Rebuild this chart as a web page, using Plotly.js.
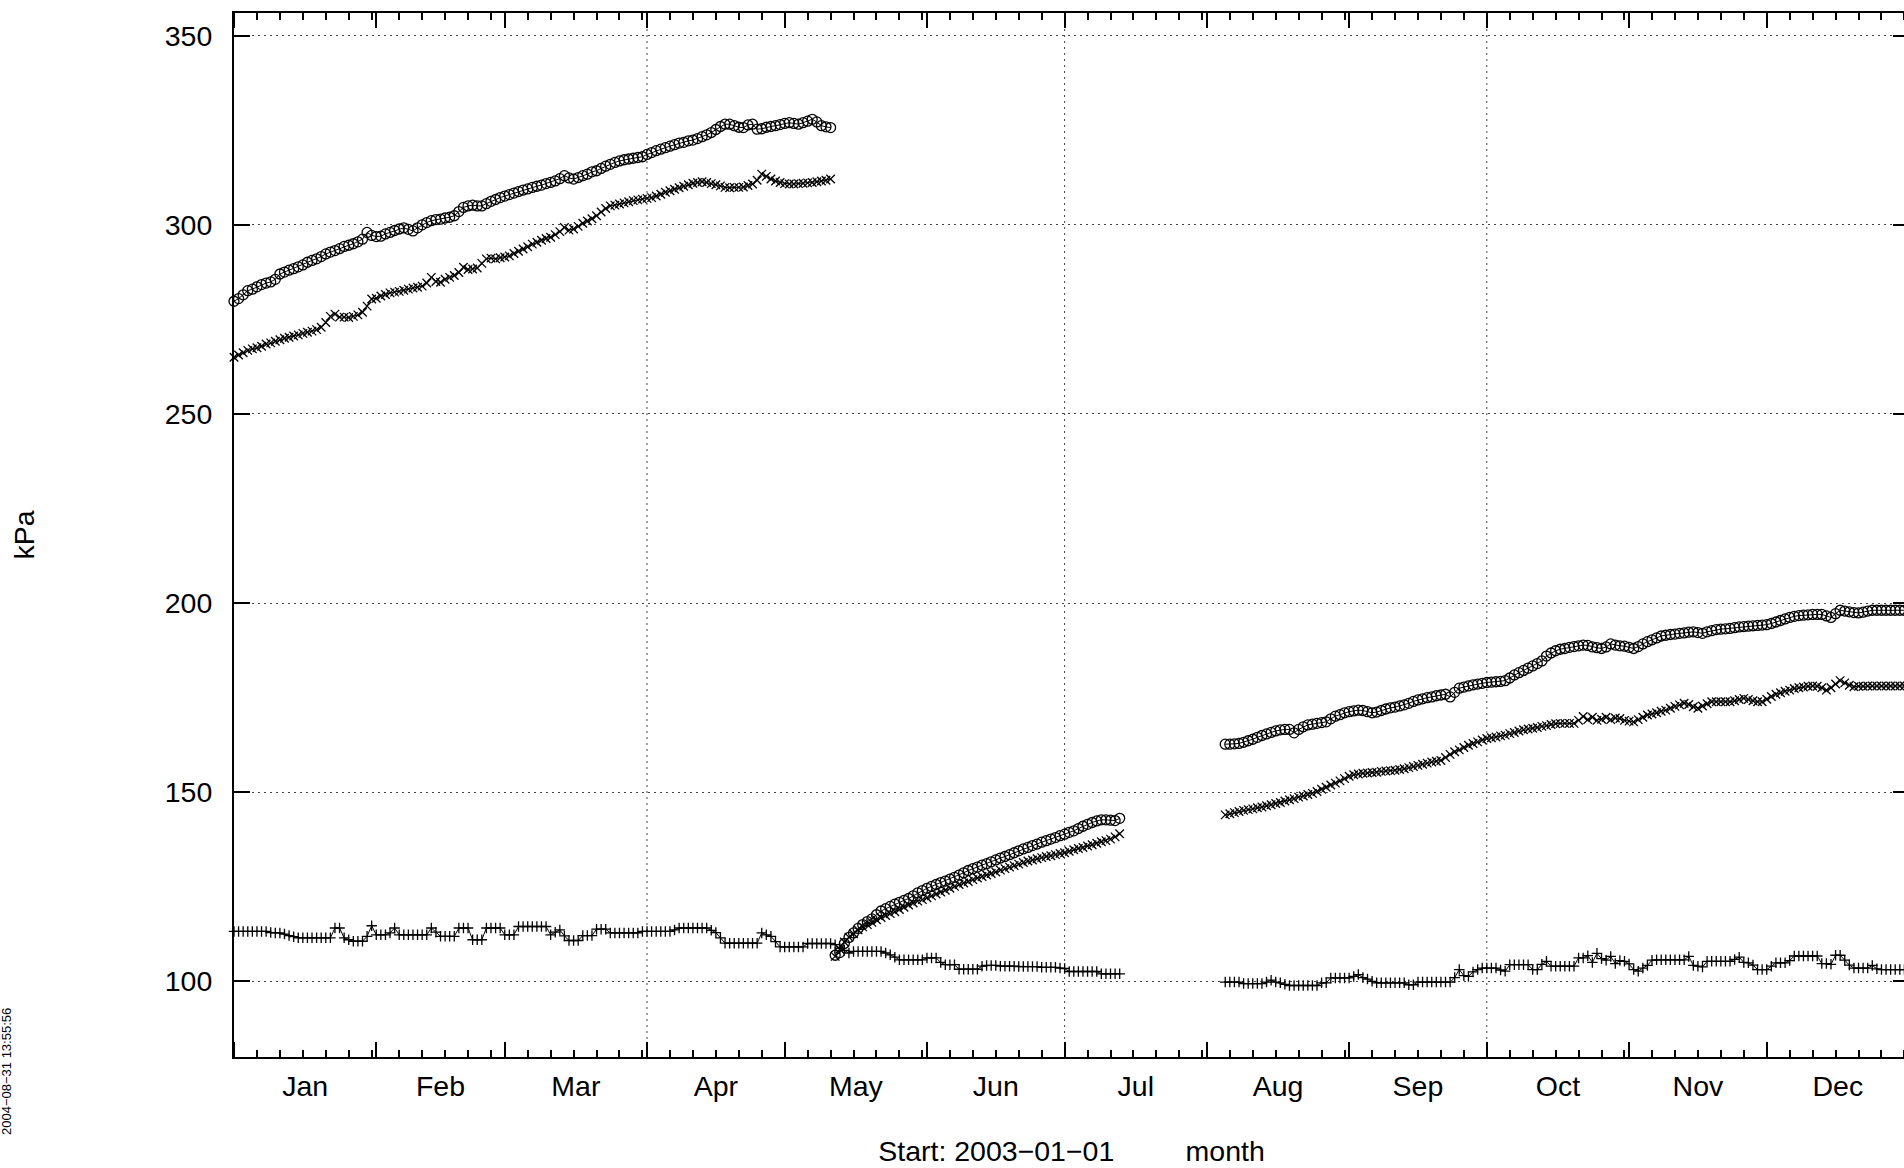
<!DOCTYPE html>
<html><head><meta charset="utf-8">
<script src="https://cdn.plot.ly/plotly-3.0.1.min.js"></script>
<style>html,body{margin:0;padding:0;overflow:hidden;background:#fff;width:1904px;height:1168px}#plot{width:1910px;height:1168px}</style>
</head><body><div id="plot"></div>
<script>
// ---- data (daily readings) ----
const seg1Start = '2003-01-01';   // days 0..130
const seg2Start = '2003-05-12';   // days 131..193
const seg3Start = '2003-08-05';   // days 216..364
const plusAStart = '2003-01-01';  // days 0..193

const circ1 = [
279.8,280.5,281.5,282.6,283.0,283.6,284.2,284.6,284.9,285.6,
287.0,287.5,288.0,288.4,288.9,289.4,290.1,290.6,291.0,291.6,
292.3,292.8,293.2,293.7,294.3,294.6,295.0,295.5,296.2,298.0,
297.2,296.9,297.0,297.6,298.0,298.5,298.9,299.2,298.8,298.4,
299.2,300.0,300.6,301.1,301.4,301.5,301.8,302.0,302.4,303.5,
304.6,305.0,305.2,305.0,305.0,305.6,306.2,306.7,307.2,307.6,
308.0,308.4,308.8,309.2,309.5,309.9,310.2,310.5,310.9,311.2,
311.6,312.2,313.0,312.4,312.1,312.5,313.0,313.4,314.0,314.3,
314.9,315.5,316.0,316.5,316.9,317.2,317.4,317.6,317.8,318.0,
318.6,319.1,319.6,320.0,320.4,320.8,321.2,321.6,321.8,322.2,
322.4,322.8,323.3,323.8,324.4,325.2,326.0,326.6,326.6,326.2,
325.8,325.7,326.4,326.6,325.3,325.4,325.8,326.0,326.2,326.5,
326.8,327.0,326.8,326.6,327.0,327.4,327.9,327.2,326.2,325.9,
325.7];

const cross1 = [
265.0,265.6,266.2,266.8,267.2,267.5,267.9,268.5,268.8,269.2,
269.6,270.0,270.3,270.6,270.9,271.3,271.6,271.9,272.3,272.9,
274.2,275.8,276.4,275.6,275.6,275.5,275.8,276.2,276.9,278.5,
280.4,280.6,281.2,281.6,282.0,282.2,282.4,282.7,283.0,283.3,
283.5,283.8,284.6,286.1,285.0,284.8,285.6,286.1,286.6,287.4,
288.8,288.2,288.3,288.6,289.8,291.0,291.2,291.0,291.3,291.5,
291.8,292.4,293.0,293.6,294.2,294.9,295.4,295.9,296.4,296.7,
297.4,298.2,299.3,298.6,298.9,299.6,300.4,301.0,301.6,302.4,
303.4,304.3,305.0,305.2,305.5,305.8,306.1,306.4,306.6,306.8,
307.0,307.2,307.6,308.1,308.6,309.0,309.4,309.8,310.2,310.6,
311.0,311.2,311.4,311.2,310.9,310.6,310.3,309.9,309.8,309.9,
309.9,310.0,310.4,310.8,311.8,313.4,312.8,312.1,311.6,311.2,
310.9,310.8,310.8,310.9,311.0,311.1,311.2,311.4,311.6,311.8,
312.1];

const plusA = [
113.2,113.2,113.2,113.2,113.2,113.2,113.2,113.2,112.9,112.8,
112.8,112.5,112.1,111.8,111.5,111.5,111.5,111.5,111.5,111.5,
111.5,111.5,114.1,114.1,111.5,111.0,110.6,110.6,110.6,111.9,
114.7,112.3,112.3,112.3,112.8,114.1,112.3,112.3,112.3,112.3,
112.3,112.3,112.3,114.1,113.0,111.9,111.9,111.9,111.9,114.1,
114.1,114.1,111.0,111.0,111.0,114.1,114.1,114.1,114.1,112.3,
112.3,112.3,114.5,114.5,114.5,114.5,114.5,114.5,114.5,112.3,
113.0,113.6,112.0,110.8,110.8,110.8,112.1,112.1,112.1,113.8,
113.8,113.8,112.8,112.8,112.8,112.8,112.8,112.8,112.8,113.2,
113.2,113.2,113.2,113.2,113.2,113.2,113.6,114.1,114.1,114.1,
114.1,114.1,114.1,114.1,113.5,112.9,111.5,110.1,110.1,110.1,
110.1,110.1,110.1,110.1,110.1,112.8,112.3,111.9,110.5,109.1,
109.1,109.1,109.1,109.1,109.1,110.0,110.0,110.0,110.0,110.0,
110.0,109.7,108.8,108.2,107.5,107.9,107.9,107.9,107.9,107.9,
107.9,107.9,107.5,107.0,106.4,105.7,105.7,105.7,105.7,105.7,
105.7,106.2,106.2,106.2,105.0,104.4,104.4,104.4,103.2,103.2,
103.2,103.2,103.2,104.0,104.2,104.2,104.2,104.0,104.0,104.0,
104.0,103.9,103.9,103.9,103.9,103.9,103.7,103.7,103.7,103.7,
103.5,103.4,102.6,102.6,102.6,102.6,102.6,102.6,102.6,102.0,
102.0,102.0,102.0,102.0];

const circ2 = [
106.9,107.6,110.0,111.6,112.8,114.0,115.0,115.8,116.5,117.6,
118.6,119.2,119.8,120.4,120.9,121.4,121.9,122.6,123.4,124.0,
124.6,125.1,125.6,126.1,126.5,127.0,127.5,128.1,128.7,129.3,
129.8,130.2,130.7,131.1,131.6,132.1,132.6,133.0,133.5,134.0,
134.5,135.0,135.4,135.9,136.3,136.8,137.2,137.6,138.0,138.5,
138.9,139.4,139.8,140.4,141.0,141.5,142.0,142.4,142.7,142.7,
142.6,142.5,143.1];

const cross2 = [
106.6,108.5,110.4,111.7,112.6,113.6,114.4,115.0,115.6,116.3,
116.9,117.4,117.9,118.4,119.0,119.6,120.2,120.7,121.2,121.6,
122.1,122.6,123.1,123.6,124.1,124.6,125.1,125.6,126.0,126.4,
126.9,127.3,127.7,128.1,128.5,128.9,129.4,129.8,130.2,130.6,
131.0,131.4,131.8,132.1,132.4,132.7,133.0,133.2,133.5,133.8,
134.0,134.4,134.8,135.1,135.4,135.8,136.1,136.5,136.9,137.2,
137.6,138.2,139.0];

const circ3 = [
162.7,162.7,162.8,162.9,163.2,163.6,164.0,164.5,165.0,165.4,
165.8,166.2,166.5,166.6,166.6,165.7,166.6,167.3,167.8,168.0,
168.2,168.4,168.6,169.4,170.1,170.5,171.0,171.3,171.5,171.7,
171.6,171.3,171.0,171.2,171.6,172.0,172.3,172.5,172.8,173.1,
173.5,174.0,174.4,174.7,175.0,175.2,175.5,175.7,175.9,175.2,
176.4,177.5,177.8,178.1,178.4,178.6,178.8,179.0,179.1,179.2,
179.3,179.5,180.2,181.0,181.6,182.2,182.8,183.4,184.0,184.7,
186.0,186.8,187.4,187.8,188.0,188.3,188.5,188.7,188.9,188.8,
188.4,188.2,188.0,188.4,189.2,188.9,188.7,188.6,188.3,188.0,
188.5,189.2,189.8,190.3,190.8,191.3,191.5,191.7,191.8,192.0,
192.1,192.3,192.4,192.2,192.0,192.4,192.7,193.0,193.1,193.2,
193.3,193.5,193.7,193.8,193.9,194.0,194.1,194.2,194.3,194.6,
195.0,195.4,195.8,196.2,196.5,196.7,196.8,196.9,197.0,197.0,
197.0,196.6,196.2,197.2,198.1,197.9,197.7,197.5,197.4,197.6,
197.9,198.1,198.1,198.1,198.1,198.1,198.1,198.1,198.1];

const cross3 = [
144.0,144.3,144.6,144.9,145.2,145.4,145.6,145.9,146.1,146.4,
146.7,147.0,147.3,147.7,148.0,148.3,148.7,149.0,149.4,149.7,
150.2,150.8,151.3,151.9,152.4,153.0,153.6,154.2,154.6,154.8,
155.0,155.1,155.2,155.3,155.5,155.6,155.7,155.8,156.0,156.2,
156.5,156.8,157.1,157.4,157.7,158.0,158.2,158.4,159.2,160.0,
160.7,161.2,161.8,162.4,162.9,163.3,163.8,164.2,164.4,164.6,
164.9,165.1,165.5,165.8,166.2,166.5,166.7,166.9,167.1,167.4,
167.6,167.9,168.1,168.2,168.2,168.2,168.2,169.0,170.0,169.2,
169.8,169.0,169.3,169.8,169.2,169.6,169.5,169.0,168.8,168.6,
169.2,169.8,170.4,170.7,171.0,171.4,171.7,172.2,172.7,173.1,
173.5,173.2,172.6,172.2,172.8,173.4,173.9,173.9,173.9,173.9,
173.9,174.2,174.5,174.8,174.5,174.2,173.9,173.9,174.6,175.3,
175.9,176.3,176.7,177.0,177.4,177.6,177.8,178.0,178.1,178.0,
177.6,177.0,177.6,178.6,179.5,178.9,178.3,177.9,178.0,178.0,
178.1,178.1,178.1,178.1,178.1,178.1,178.1,178.1,178.1];

const plus3 = [
99.8,99.8,99.8,99.8,99.4,99.4,99.4,99.4,99.4,99.8,
100.3,99.8,99.6,99.2,98.9,98.9,98.9,98.9,98.9,98.9,
98.9,99.6,99.6,100.9,100.9,100.9,100.9,100.9,101.3,101.8,
101.0,100.6,100.0,99.6,99.6,99.6,99.6,99.6,99.6,99.6,
99.1,99.1,99.8,99.8,99.8,99.8,99.8,99.8,99.8,99.8,
101.0,103.1,101.5,101.3,102.5,103.1,103.5,103.5,103.5,103.5,
103.0,102.7,104.4,104.4,104.4,104.4,104.4,103.1,103.1,104.5,
105.3,104.0,104.0,104.0,104.0,104.0,104.0,106.2,106.2,106.8,
105.0,107.4,106.0,105.6,106.6,104.7,105.5,105.3,104.6,103.1,
102.7,103.5,104.2,105.6,105.7,105.7,105.7,105.7,105.7,105.7,
105.7,106.6,104.2,104.0,103.8,105.3,105.3,105.3,105.3,105.3,
105.3,105.8,106.4,105.0,104.9,104.3,103.1,103.1,103.1,104.0,
104.9,104.9,104.9,105.5,106.7,106.7,106.7,106.7,106.7,106.7,
104.7,104.7,104.5,106.9,106.9,105.6,104.3,103.5,103.5,103.5,
103.5,104.2,103.3,103.1,103.1,103.1,103.1,103.1,103.1];

const yTickVals = [100, 150, 200, 250, 300, 350];
const gridMonths = ['2003-04-01', '2003-07-01', '2003-10-01'];
const xTitle = 'Start: 2003\u221201\u221201\u00a0\u00a0\u00a0\u00a0\u00a0\u00a0\u00a0\u00a0\u00a0month';
const yTitle = 'kPa';
const stamp = '2004\u221208\u221231 13:55:56';

// ---- helpers ----
const DAY = 864e5;
function iso(t){ const d = new Date(t); return d.toISOString().slice(0,10); }
function dates(start, n){ const t0 = Date.parse(start + 'T00:00:00Z'); const out = []; for(let i=0;i<n;i++) out.push(iso(t0 + i*DAY)); return out; }

const minorVals = [];
for(let m=0;m<12;m++){
  const s = Date.UTC(2003,m,1), nx = Date.UTC(2003,m+1,1);
  for(let k=5;k<=30;k+=5){ const t = s + k*DAY; if(t < nx) minorVals.push(iso(t)); }
}

const blk = '#000';
function tr(start, vals, symbol, size){
  return { x: dates(start, vals.length), y: vals, type:'scatter', mode:'lines+markers',
    line:{color:blk, width:1}, cliponaxis:false,
    marker:{symbol:symbol, size:size, color:blk, line:{color:blk, width:1.3}}, hoverinfo:'skip' };
}
const traces = [
  tr(seg1Start, circ1, 'circle-open', 10),
  tr(seg1Start, cross1, 'x-thin-open', 8.5),
  tr(seg2Start, circ2, 'circle-open', 10),
  tr(seg2Start, cross2, 'x-thin-open', 8.5),
  tr(seg3Start, circ3, 'circle-open', 10),
  tr(seg3Start, cross3, 'x-thin-open', 8.5),
  tr(plusAStart, plusA, 'cross-thin-open', 7.5),
  tr(seg3Start, plus3, 'cross-thin-open', 7.5)
];

const font = {family:'"Liberation Sans", Arial, Helvetica, sans-serif', size:28.5, color:'#000'};
const layout = {
  width:1910, height:1168, margin:{l:234, r:1, t:13, b:111},
  paper_bgcolor:'#fff', plot_bgcolor:'#fff', showlegend:false, font:font,
  xaxis:{type:'date', range:['2003-01-01','2004-01-01'], tick0:'2003-01-01', dtick:'M1',
    tickformat:'%b', ticklabelmode:'period', ticks:'inside', ticklen:15, tickwidth:2, tickcolor:blk,
    showline:true, linewidth:2, linecolor:blk, mirror:'ticks', showgrid:false, zeroline:false,
    ticklabelstandoff:3, tickfont:font,
    minor:{tickmode:'array', tickvals:minorVals, ticks:'inside', ticklen:7, tickwidth:2, tickcolor:blk, showgrid:false},
    title:{text:xTitle, font:font, standoff:40}},
  yaxis:{range:[80,356], tickmode:'array', tickvals:yTickVals, ticks:'inside', ticklen:16, tickwidth:2, tickcolor:blk,
    showline:true, linewidth:2, linecolor:blk, mirror:'ticks', showgrid:true, gridcolor:'#444', gridwidth:1,
    griddash:'2px,4px', zeroline:false, ticklabelstandoff:14, tickfont:font,
    title:{text:yTitle, font:font, standoff:122}},
  shapes: gridMonths.map(d => ({type:'line', xref:'x', yref:'paper', x0:d, x1:d, y0:0, y1:1, layer:'below',
    line:{color:'#444', width:1, dash:'2px,4px'}})),
  annotations:[{text:stamp, xref:'paper', yref:'paper', x:(6-234)/1675, y:(1057-1072)/1044,
    xanchor:'center', yanchor:'middle', textangle:-90, showarrow:false,
    font:{family:font.family, size:13, color:blk}}]
};
Plotly.newPlot('plot', traces, layout, {staticPlot:true, displayModeBar:false});
</script></body></html>
